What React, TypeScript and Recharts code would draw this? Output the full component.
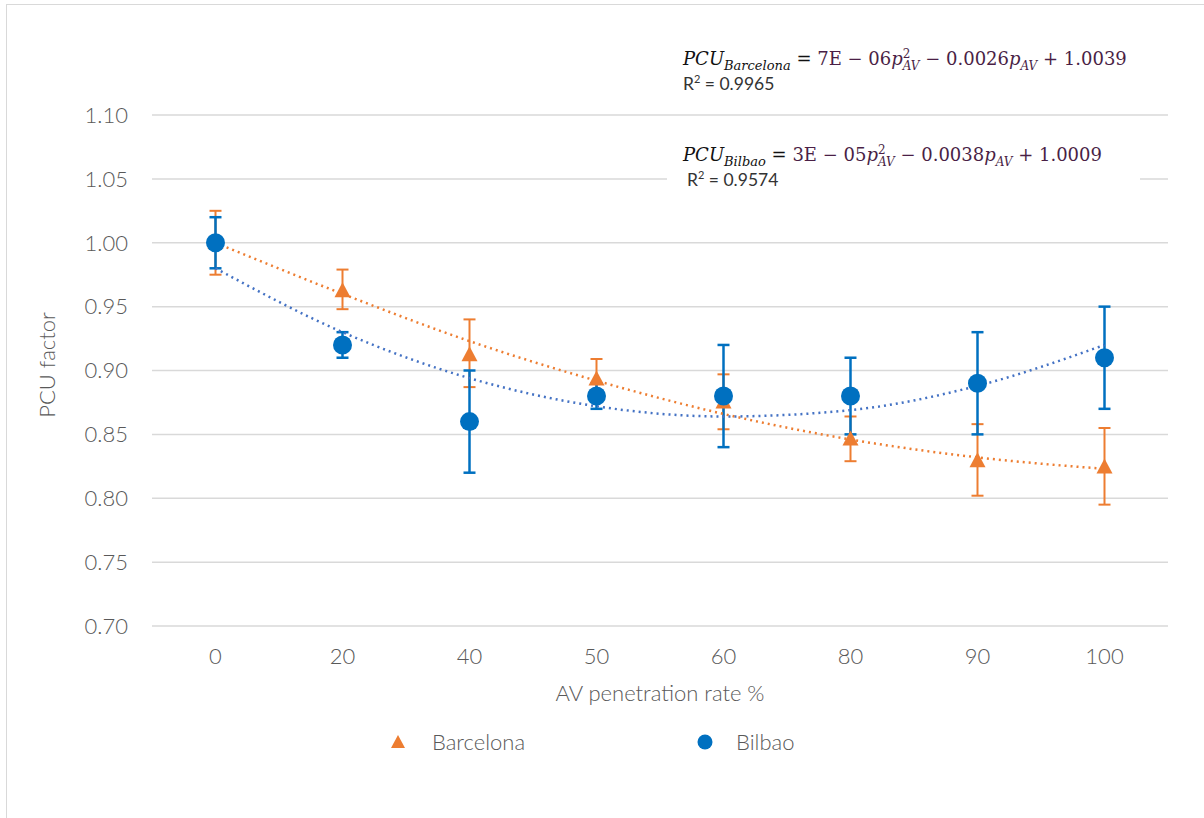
import React from "react";
import { ComposedChart, Line, XAxis, YAxis, CartesianGrid, ErrorBar } from "recharts";

const categories = ["0", "20", "40", "50", "60", "80", "90", "100"];
const yTicks = [0.7, 0.75, 0.8, 0.85, 0.9, 0.95, 1.0, 1.05, 1.1];

const barcelona = [1.0, 0.962, 0.912, 0.893, 0.875, 0.846, 0.829, 0.824];
const barcelonaErrLow = [0.025, 0.014, 0.025, 0.016, 0.021, 0.017, 0.027, 0.029];
const barcelonaErrHigh = [0.025, 0.017, 0.028, 0.016, 0.022, 0.018, 0.029, 0.031];
const barcelonaTrend = [1.0, 0.96, 0.923, 0.892, 0.866, 0.846, 0.832, 0.823];

const bilbao = [1.0, 0.92, 0.86, 0.88, 0.88, 0.88, 0.89, 0.91];
const bilbaoErrLow = [0.02, 0.01, 0.04, 0.01, 0.04, 0.03, 0.04, 0.04];
const bilbaoErrHigh = [0.02, 0.01, 0.04, 0.01, 0.04, 0.03, 0.04, 0.04];
const bilbaoTrend = [0.98, 0.93, 0.894, 0.872, 0.864, 0.869, 0.888, 0.92];

const ORANGE = "#ED7D31";
const BLUE = "#0070C0";
const TREND_BLUE = "#4472C4";
const GREY = "#595959";
const EQ = "#4a1f46";
const FONT = "Lato, 'Open Sans', sans-serif";

const data = categories.map((c, i) => ({
  cat: c,
  bcn: barcelona[i],
  bcnErr: [barcelonaErrLow[i], barcelonaErrHigh[i]],
  bcnTrend: barcelonaTrend[i],
  bil: bilbao[i],
  bilErr: [bilbaoErrLow[i], bilbaoErrHigh[i]],
  bilTrend: bilbaoTrend[i],
}));

function Triangle(props: any) {
  const { cx, cy, index } = props;
  if (cx == null || cy == null) return <g key={index} />;
  return <path key={index} d={`M${cx},${cy - 9} L${cx + 8},${cy + 6} L${cx - 8},${cy + 6} Z`} fill={ORANGE} />;
}

function Circle(props: any) {
  const { cx, cy, index } = props;
  if (cx == null || cy == null) return <g key={index} />;
  return <circle key={index} cx={cx} cy={cy} r={9.5} fill={BLUE} />;
}

const eqStyle: React.CSSProperties = {
  position: "absolute",
  fontFamily: "'DejaVu Serif', serif",
  fontSize: 18,
  color: EQ,
  whiteSpace: "nowrap",
  lineHeight: 1,
};
const r2Style: React.CSSProperties = {
  position: "absolute",
  fontFamily: FONT,
  fontSize: 17.5,
  color: "#333",
  whiteSpace: "nowrap",
};
const labelStyle: React.CSSProperties = {
  position: "absolute",
  fontFamily: FONT,
  fontWeight: 300,
  fontSize: 22,
  color: GREY,
  whiteSpace: "nowrap",
};

function Equation({ city, a, b, c }: { city: string; a: string; b: string; c: string }) {
  return (
    <span>
      <i style={{ color: "#111" }}>PCU</i>
      <sub style={{ fontSize: 13, fontStyle: "italic", color: "#111" }}>{city}</sub>
      <span style={{ color: "#111" }}> = </span>
      {a}
      <i>p</i>
      <span style={{ display: "inline-flex", flexDirection: "column", verticalAlign: "middle", fontSize: 12, lineHeight: 1 }}>
        <span>2</span>
        <i>AV</i>
      </span>
      {" − "}
      {b}
      <i>p</i>
      <sub style={{ fontSize: 12, fontStyle: "italic" }}>AV</sub>
      {" + "}
      {c}
    </span>
  );
}

export default function App() {
  return (
    <div style={{ position: "absolute", left: 0, top: 0, width: 1204, height: 818, background: "#fff", overflow: "hidden" }}>
      <div style={{ position: "absolute", left: 6, top: 4, width: 1300, height: 900, border: "1.5px solid #d9d9d9" }} />
      <ComposedChart
        width={1204}
        height={818}
        data={data}
        margin={{ top: 115, right: 36, bottom: 162, left: 0 }}
        style={{ position: "absolute", left: 0, top: 0 }}
      >
        <CartesianGrid vertical={false} stroke="#d9d9d9" strokeWidth={1.5} />
        <XAxis
          dataKey="cat"
          axisLine={false}
          tickLine={false}
          tickSize={0}
          tickMargin={22}
          height={30}
          padding={{ left: 63.5, right: 63.5 }}
          tick={{ fill: GREY, fontSize: 22, fontFamily: FONT, fontWeight: 300 }}
        />
        <YAxis
          type="number"
          domain={[0.7, 1.1]}
          ticks={yTicks}
          tickFormatter={(v: number) => v.toFixed(2)}
          axisLine={false}
          tickLine={false}
          tickSize={0}
          tickMargin={24}
          width={152}
          tick={{ fill: GREY, fontSize: 22, fontFamily: FONT, fontWeight: 300 }}
        />
        <Line dataKey="bcn" stroke="none" dot={Triangle} activeDot={false} isAnimationActive={false}>
          <ErrorBar dataKey="bcnErr" width={6} stroke={ORANGE} strokeWidth={2} />
        </Line>
        <Line dataKey="bil" stroke="none" dot={Circle} activeDot={false} isAnimationActive={false}>
          <ErrorBar dataKey="bilErr" width={6} stroke={BLUE} strokeWidth={2.5} />
        </Line>
        <Line
          dataKey="bcnTrend"
          type="monotone"
          stroke={ORANGE}
          strokeWidth={2.5}
          strokeDasharray="2 4"
          dot={false}
          activeDot={false}
          isAnimationActive={false}
        />
        <Line
          dataKey="bilTrend"
          type="monotone"
          stroke={TREND_BLUE}
          strokeWidth={2.5}
          strokeDasharray="2 4"
          dot={false}
          activeDot={false}
          isAnimationActive={false}
        />
      </ComposedChart>

      <div style={{ position: "absolute", left: 667, top: 140, width: 473, height: 55, background: "#fff" }} />
      <div style={{ ...eqStyle, left: 683, top: 48 }}>
        <Equation city="Barcelona" a="7E − 06" b="0.0026" c="1.0039" />
      </div>
      <div style={{ ...r2Style, left: 683, top: 72 }}>
        R<sup style={{ fontSize: 11 }}>2</sup> = 0.9965
      </div>
      <div style={{ ...eqStyle, left: 683, top: 144 }}>
        <Equation city="Bilbao" a="3E − 05" b="0.0038" c="1.0009" />
      </div>
      <div style={{ ...r2Style, left: 687, top: 168 }}>
        R<sup style={{ fontSize: 11 }}>2</sup> = 0.9574
      </div>

      <div style={{ ...labelStyle, left: 46, top: 365, transform: "translate(-50%, -50%) rotate(-90deg)" }}>PCU factor</div>
      <div style={{ ...labelStyle, left: 660, top: 692, transform: "translate(-50%, -50%)" }}>AV penetration rate %</div>

      <svg style={{ position: "absolute", left: 0, top: 0 }} width={1204} height={818} pointerEvents="none">
        <path d="M398,735 L405,748 L391,748 Z" fill={ORANGE} />
        <circle cx={705} cy={742} r={7.5} fill={BLUE} />
      </svg>
      <div style={{ ...labelStyle, left: 432, top: 728 }}>Barcelona</div>
      <div style={{ ...labelStyle, left: 736, top: 728 }}>Bilbao</div>
    </div>
  );
}
